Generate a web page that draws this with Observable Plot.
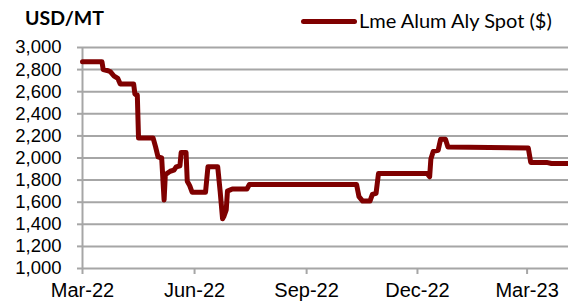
<!DOCTYPE html>
<html>
<head>
<meta charset="utf-8">
<script src="https://cdn.jsdelivr.net/npm/d3@7"></script>
<script src="https://cdn.jsdelivr.net/npm/@observablehq/plot@0.6"></script>
<style>
  html, body { margin: 0; padding: 0; background: #fff; }
  #wrap { width: 568px; height: 308px; overflow: hidden; }
  #hdr { position: relative; height: 28px; width: 568px; }
  #title { position: absolute; left: 25px; top: 6px; font: bold 19.5px Lato, sans-serif; color: #000; }
  #swatch { position: absolute; left: 301px; top: 19px; width: 56px; height: 5px; background: #7f0000; border-radius: 3px; }
  #leg { position: absolute; left: 359px; top: 8px; font: 20px Lato, sans-serif; color: #000; white-space: nowrap; }
  #chart svg { display: block; }
</style>
</head>
<body>
<div id="wrap">
  <div id="hdr">
    <div id="title">USD/MT</div>
    <div id="swatch"></div>
    <div id="leg">Lme Alum Aly Spot ($)</div>
  </div>
  <div id="chart"></div>
</div>
<script>
const dates = [
  "2022-03-01","2022-03-17","2022-03-18","2022-03-22","2022-03-24","2022-03-27","2022-03-30","2022-04-01",
  "2022-04-12","2022-04-13","2022-04-14","2022-04-15","2022-04-16","2022-04-28","2022-04-30","2022-05-02",
  "2022-05-05","2022-05-07","2022-05-08","2022-05-12","2022-05-15","2022-05-17","2022-05-20","2022-05-21",
  "2022-05-25","2022-05-26","2022-05-28","2022-05-30","2022-06-10","2022-06-12","2022-06-20","2022-06-22",
  "2022-06-24","2022-06-25","2022-06-27","2022-06-28","2022-07-02","2022-07-14","2022-07-16","2022-10-12",
  "2022-10-14","2022-10-17","2022-10-23","2022-10-25","2022-10-28","2022-10-30","2022-12-09","2022-12-11",
  "2022-12-12","2022-12-14","2022-12-18","2022-12-20","2022-12-24","2022-12-26","2023-03-02","2023-03-04",
  "2023-03-17","2023-03-21","2023-04-04"
];
const values = [
  2870, 2870, 2800, 2790, 2780, 2740, 2720, 2670,
  2670, 2580, 2570, 2570, 2180, 2180, 2100, 2010,
  2000, 1620, 1850, 1880, 1890, 1920, 1930, 2050,
  2050, 1790, 1750, 1690, 1690, 1920, 1920, 1700,
  1450, 1470, 1530, 1700, 1720, 1720, 1760, 1760,
  1650, 1610, 1610, 1670, 1680, 1860, 1860, 1830,
  1990, 2060, 2070, 2170, 2170, 2100, 2090, 1960,
  1960, 1950, 1950
];
const yTicks = [1000, 1200, 1400, 1600, 1800, 2000, 2200, 2400, 2600, 2800, 3000];
const xTicks = ["2022-03-01", "2022-06-01", "2022-09-01", "2022-12-01", "2023-03-01"];
const xDomain = ["2022-03-01", "2023-04-04"];

const data = dates.map((d, i) => ({date: new Date(d + "T00:00:00Z"), value: values[i]}));
const gridColor = "#a6a6a6";

const chart = Plot.plot({
  width: 568,
  height: 280,
  marginTop: 19,
  marginBottom: 40,
  marginLeft: 82,
  marginRight: 0,
  style: {fontFamily: "'Liberation Sans', Arial, sans-serif", background: "transparent", color: "#000"},
  x: {type: "utc", domain: xDomain.map(d => new Date(d + "T00:00:00Z"))},
  y: {domain: [1000, 3000]},
  marks: [
    Plot.gridY(yTicks, {stroke: gridColor, strokeOpacity: 1, strokeWidth: 2}),
    Plot.axisY(yTicks, {tickFormat: d3.format(","), tickSize: 5, tickPadding: 16, fontSize: 18.5, label: null, stroke: gridColor, strokeWidth: 2, strokeOpacity: 1}),
    Plot.axisX(xTicks.map(d => new Date(d + "T00:00:00Z")), {tickFormat: d3.utcFormat("%b-%y"), tickSize: 6, tickPadding: 8, fontSize: 20, label: null, stroke: gridColor, strokeWidth: 2, strokeOpacity: 1}),
    Plot.ruleX([new Date(xDomain[0] + "T00:00:00Z")], {stroke: gridColor, strokeWidth: 2}),
    Plot.line(data, {x: "date", y: "value", stroke: "#7f0000", strokeWidth: 5, strokeLinejoin: "round", strokeLinecap: "round"})
  ]
});
document.getElementById("chart").appendChild(chart);
</script>
</body>
</html>
